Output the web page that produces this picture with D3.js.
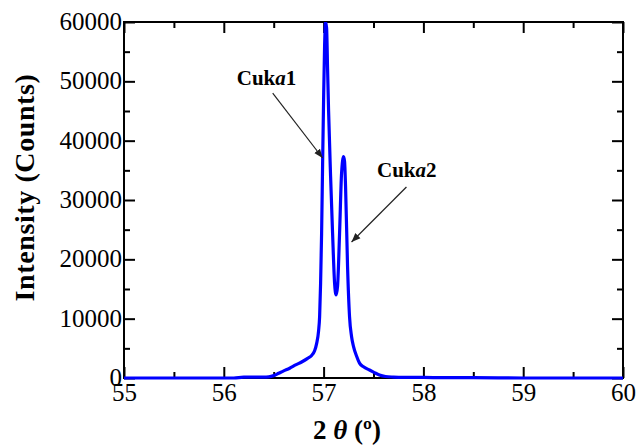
<!DOCTYPE html>
<html><head><meta charset="utf-8">
<script src="https://cdn.jsdelivr.net/npm/d3@7"></script>
<style>
body{margin:0;background:#fff;}
svg{display:block;}
text{font-family:"Liberation Serif","Times New Roman",serif;fill:#000;}
</style></head>
<body>
<svg id="c" width="638" height="448"></svg>
<script>
// ---- data ----
const twoTheta = [55.0,55.5,56.0,56.1,56.2,56.4,56.45,56.5,56.55,56.6,56.66,56.72,56.78,56.84,56.88,56.91,56.93,56.95,56.96,56.97,56.98,56.99,57.0,57.01,57.02,57.03,57.04,57.05,57.07,57.09,57.11,57.125,57.14,57.16,57.18,57.2,57.21,57.22,57.24,57.26,57.28,57.3,57.33,57.36,57.4,57.46,57.5,57.56,57.62,57.7,57.8,58.0,58.2,58.5,59.0,60.0];
const intensity = [0,0,0,0,150,150,200,400,800,1200,1650,2200,2700,3300,3800,4600,5800,8000,10300,16000,24400,36000,47000,56000,60000,59000,52000,45000,34000,24400,16000,14000,15500,24400,34500,37300,36500,32300,18800,10300,7000,5300,3700,2500,1900,1350,1000,500,250,150,100,100,50,50,0,0];
const xTicks = [55,56,57,58,59,60];
const yTicks = [0,10000,20000,30000,40000,50000,60000];
const xMinor = [55.5,56.5,57.5,58.5,59.5];
const yMinor = [5000,15000,25000,35000,45000,55000];
const annLabels = ["1","2"];
const annText = [[56.13,49400],[57.535,33880]];
const annFrom = [[56.49,48030],[57.83,32190]];
const annTo = [[56.99,37080],[57.28,22920]];

// ---- layout ----
const svg = d3.select("#c");
const L=124, R=623, T=22, B=378;
const x = d3.scaleLinear().domain([55,60]).range([L,R]);
const y = d3.scaleLinear().domain([0,60000]).range([B,T]);

const defs = svg.append("defs");
defs.append("clipPath").attr("id","clip").append("rect")
  .attr("x",L).attr("y",T).attr("width",R-L+2).attr("height",B-T+2);
defs.append("marker").attr("id","arr").attr("viewBox","0 0 10 10")
  .attr("refX",10).attr("refY",5).attr("markerWidth",9).attr("markerHeight",9)
  .attr("orient","auto").attr("markerUnits","userSpaceOnUse")
  .append("path").attr("d","M0,1 L10,5 L0,9 Z").attr("fill","#222");

// frame
svg.append("rect").attr("x",L).attr("y",T).attr("width",R-L).attr("height",B-T)
  .attr("fill","none").attr("stroke","#000").attr("stroke-width",2);

function styleAxis(g){
  g.select(".domain").remove();
  g.selectAll(".tick line").attr("stroke","#000").attr("stroke-width",2);
}
const MAJ=11, MIN=6;
// bottom
svg.append("g").attr("transform",`translate(0,${B})`)
  .call(d3.axisBottom(x).tickValues(xTicks).tickSize(-MAJ).tickPadding(2).tickFormat(d3.format("d")))
  .call(styleAxis)
  .call(g=>g.selectAll("text").attr("font-size",25).attr("dy","0.72em").attr("y",5));
svg.append("g").attr("transform",`translate(0,${B})`)
  .call(d3.axisBottom(x).tickValues(xMinor).tickSize(-MIN).tickFormat(""))
  .call(styleAxis);
// top
svg.append("g").attr("transform",`translate(0,${T})`)
  .call(d3.axisTop(x).tickValues(xTicks).tickSize(-MAJ).tickFormat(""))
  .call(styleAxis);
svg.append("g").attr("transform",`translate(0,${T})`)
  .call(d3.axisTop(x).tickValues(xMinor).tickSize(-MIN).tickFormat(""))
  .call(styleAxis);
// left
svg.append("g").attr("transform",`translate(${L},0)`)
  .call(d3.axisLeft(y).tickValues(yTicks).tickSize(-MAJ).tickPadding(2).tickFormat(d3.format("d")))
  .call(styleAxis)
  .call(g=>g.selectAll("text").attr("font-size",25).attr("x",-2).attr("dy","0.3em"));
svg.append("g").attr("transform",`translate(${L},0)`)
  .call(d3.axisLeft(y).tickValues(yMinor).tickSize(-MIN).tickFormat(""))
  .call(styleAxis);
// right
svg.append("g").attr("transform",`translate(${R},0)`)
  .call(d3.axisRight(y).tickValues(yTicks).tickSize(-MAJ).tickFormat(""))
  .call(styleAxis);
svg.append("g").attr("transform",`translate(${R},0)`)
  .call(d3.axisRight(y).tickValues(yMinor).tickSize(-MIN).tickFormat(""))
  .call(styleAxis);

// curve
const pts = twoTheta.map((t,i)=>[t,intensity[i]]);
svg.append("path").datum(pts).attr("clip-path","url(#clip)")
  .attr("d",d3.line().x(d=>x(d[0])).y(d=>y(d[1])).curve(d3.curveMonotoneX))
  .attr("fill","none").attr("stroke","#0000ff").attr("stroke-width",3.2)
  .attr("stroke-linejoin","round");

// annotations
annLabels.forEach((n,i)=>{
  const t = svg.append("text").attr("x",x(annText[i][0])).attr("y",y(annText[i][1]))
    .attr("font-size",21).attr("font-weight","bold");
  t.append("tspan").text("Cuk");
  t.append("tspan").attr("font-style","italic").text("a");
  t.append("tspan").text(n);
  svg.append("line").attr("x1",x(annFrom[i][0])).attr("y1",y(annFrom[i][1]))
    .attr("x2",x(annTo[i][0])).attr("y2",y(annTo[i][1]))
    .attr("stroke","#222").attr("stroke-width",1.2).attr("marker-end","url(#arr)");
});

// axis titles
svg.append("text").attr("transform",`translate(34,${(72+303)/2}) rotate(-90)`)
  .attr("text-anchor","middle").attr("font-size",28).attr("font-weight","bold")
  .attr("letter-spacing",0.6)
  .text("Intensity (Counts)");
const xt = svg.append("text").attr("x",347).attr("y",439).attr("text-anchor","middle")
  .attr("font-size",27).attr("font-weight","bold");
xt.append("tspan").text("2 ");
xt.append("tspan").attr("font-style","italic").text("θ");
xt.append("tspan").text(" (º)");
</script>
</body></html>
